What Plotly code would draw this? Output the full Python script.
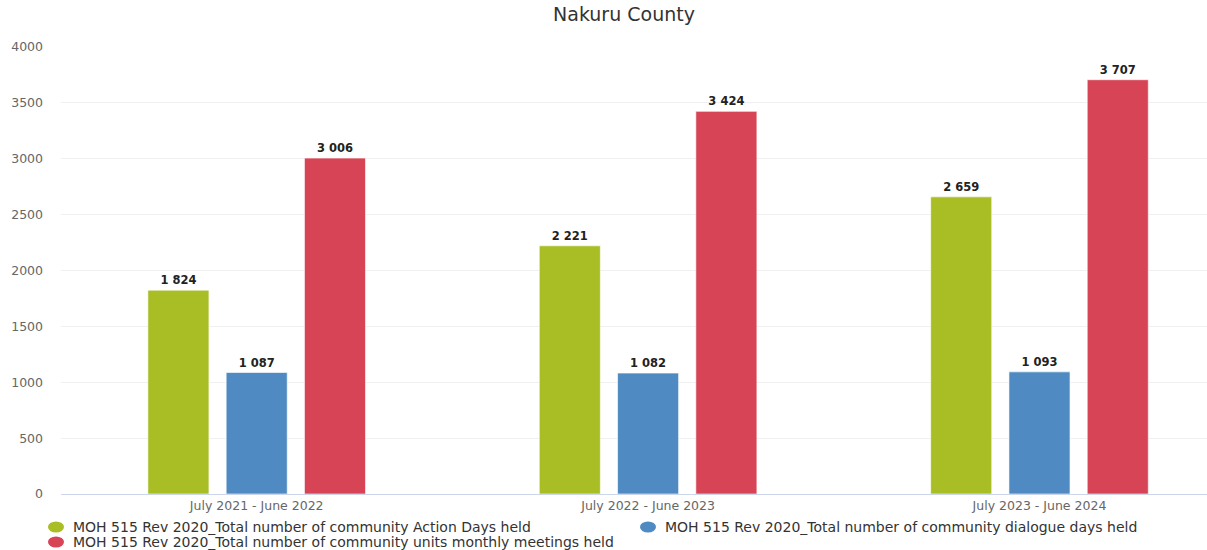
import plotly.graph_objects as go

periods = ["July 2021 - June 2022", "July 2022 - June 2023", "July 2023 - June 2024"]
action_days = [1824, 2221, 2659]
dialogue_days = [1087, 1082, 1093]
unit_meetings = [3006, 3424, 3707]

series_names = [
    "MOH 515 Rev 2020_Total number of community Action Days held",
    "MOH 515 Rev 2020_Total number of community dialogue days held",
    "MOH 515 Rev 2020_Total number of community units monthly meetings held",
]
series_values = [action_days, dialogue_days, unit_meetings]
colors = ["#a8be24", "#4f8bc2", "#d74455"]

FONT = "DejaVu Sans"
W, H = 1207, 550
ML, MT, MB = 61, 47, 56
PW = W - ML
PH = H - MT - MB

fig = go.Figure()
for name, vals, col in zip(series_names, series_values, colors):
    fig.add_trace(go.Bar(
        x=periods, y=vals, name=name,
        marker=dict(color=col, line=dict(color="rgba(255,255,255,0.6)", width=1)),
        texttemplate="%{y:,}", textposition="outside", cliponaxis=False,
        textfont=dict(family=FONT, size=11.5, color="#222", weight="bold"),
        showlegend=False,
    ))


def px_x(px):
    return (px - ML) / PW


def px_y(py):
    return (H - MB - py) / PH


# Legend laid out in two rows below the axis: (circle centre x, row y)
legend_slots = [(56, 527), (648, 527), (56, 542)]
shapes, annotations = [], []
for (cx, cy), name, col in zip(legend_slots, series_names, colors):
    shapes.append(dict(
        type="circle", xref="paper", yref="paper",
        x0=px_x(cx - 8), x1=px_x(cx + 8), y0=px_y(cy + 5.5), y1=px_y(cy - 5.5),
        fillcolor=col, line=dict(width=0),
    ))
    annotations.append(dict(
        text=name, xref="paper", yref="paper", x=px_x(cx + 15), y=px_y(cy),
        xanchor="left", yanchor="middle", showarrow=False,
        font=dict(family=FONT, size=14, color="#333"),
    ))

fig.update_layout(
    width=W, height=H,
    separators=". ",
    paper_bgcolor="white", plot_bgcolor="white",
    barmode="group", bargap=0.40, bargroupgap=0.22,
    margin=dict(l=ML, r=0, t=MT, b=MB),
    showlegend=False,
    title=dict(text="Nakuru County", x=624 / W, xref="container", xanchor="center",
               y=1 - 14 / H, yanchor="middle",
               font=dict(family=FONT, size=19, color="#333")),
    font=dict(family=FONT, color="#666"),
    xaxis=dict(range=[-0.5, 2.428], showgrid=False, ticks="",
               showline=True, linecolor="#ccd6eb", linewidth=1,
               tickfont=dict(size=12.5, color="#666")),
    yaxis=dict(range=[0, 4000], dtick=500, showgrid=True, gridcolor="#f0f0f0",
               zeroline=False, tickformat="d", ticks="", ticklabelstandoff=17,
               tickfont=dict(size=12.5, color="#666")),
    shapes=shapes,
    annotations=annotations,
)

fig.write_html("out.html")
